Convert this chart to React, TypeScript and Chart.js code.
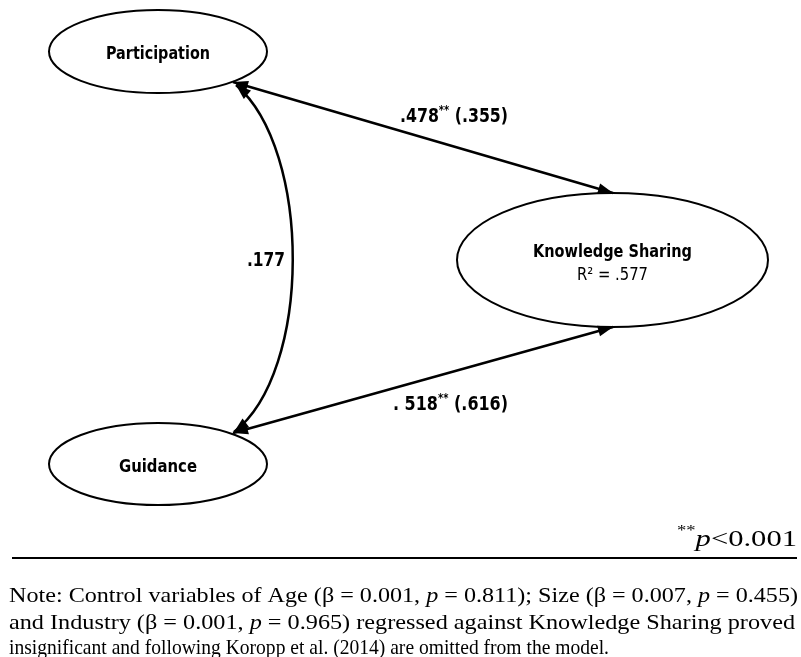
import React, { useEffect, useRef } from "react";
import { Chart, registerables } from "chart.js";

Chart.register(...registerables);

// ---- content ----
const nodeNames = ["Participation", "Knowledge Sharing", "Guidance"];
const nodeSubLabels = ["", "R² = .577", ""];
const pathSources = ["Participation", "Guidance"];
const pathTarget = "Knowledge Sharing";
const pathBeta = [".478", ". 518"];
const pathSig = ["**", "**"];
const pathSecond = [" (.355)", " (.616)"];
const covarianceValue = ".177";
const sigStars = "**";
const sigText = ["p", "<0.001"];
const noteLine1 = ["Note: Control variables of Age (β = 0.001, ", "p", " = 0.811); Size (β = 0.007, ", "p", " = 0.455)"];
const noteLine2 = ["and Industry (β = 0.001, ", "p", " = 0.965) regressed against Knowledge Sharing proved"];
const noteLine3 = ["insignificant and following Koropp et al. (2014) are omitted from the model."];

// ---- layout (data-space units of the hidden scales) ----
const W = 801;
const H = 657;
const NODE_GEOM: Record<string, { cx: number; cy: number; rx: number; ry: number; ty: number; tw: number; sy?: number; sw?: number }> = {
  "Participation": { cx: 158, cy: 51.5, rx: 109, ry: 41.5, ty: 59, tw: 104 },
  "Knowledge Sharing": { cx: 612.5, cy: 260, rx: 155.5, ry: 67, ty: 257, tw: 159, sy: 280, sw: 71 },
  "Guidance": { cx: 158, cy: 464, rx: 109, ry: 41, ty: 472, tw: 78 },
};
const PATH_GEOM = [
  { a: [233, 82], b: [613, 193], lx: 400, ly: 122, lw: 108 },
  { a: [233, 433], b: [613, 327], lx: 393, ly: 410, lw: 115 },
];
const CURVE = { p0: [236, 85], c1: [312, 150], c2: [312, 372], p3: [234, 432] };
const COV_LABEL = { x: 247, y: 266, w: 38 };
const SIG_GEOM = { right: 797, y: 546, w: 120 };
const RULE = { x0: 12, x1: 797, y: 558 };
const NOTE_GEOM = [
  { x: 9, y: 602, w: 789 },
  { x: 9, y: 629, w: 786 },
  { x: 9, y: 654, w: 600 },
];

const SANS_B = (px: number) => `bold ${px}px "DejaVu Sans Condensed", "DejaVu Sans", sans-serif`;
const SANS = (px: number) => `${px}px "DejaVu Sans Condensed", "DejaVu Sans", sans-serif`;
const SERIF = (px: number) => `${px}px "Liberation Serif", "Times New Roman", serif`;
const SERIF_I = (px: number) => `italic ${px}px "Liberation Serif", "Times New Roman", serif`;

type Seg = { t: string; font: string; dy?: number };

function measureRich(ctx: CanvasRenderingContext2D, segs: Seg[]) {
  let w = 0;
  const ws = segs.map((s) => {
    ctx.font = s.font;
    const m = ctx.measureText(s.t).width;
    w += m;
    return m;
  });
  return { w, ws };
}

function drawRich(
  ctx: CanvasRenderingContext2D,
  segs: Seg[],
  x: number,
  baseline: number,
  align: "left" | "center" | "right",
  targetW?: number
) {
  const { w, ws } = measureRich(ctx, segs);
  const sc = targetW ? targetW / w : 1;
  const total = w * sc;
  const left = align === "left" ? x : align === "center" ? x - total / 2 : x - total;
  ctx.save();
  ctx.translate(left, baseline);
  ctx.scale(sc, 1);
  ctx.textBaseline = "alphabetic";
  ctx.textAlign = "left";
  let cur = 0;
  segs.forEach((s, i) => {
    ctx.font = s.font;
    ctx.fillText(s.t, cur, s.dy || 0);
    cur += ws[i];
  });
  ctx.restore();
}

function arrowHead(ctx: CanvasRenderingContext2D, tipX: number, tipY: number, fromX: number, fromY: number) {
  const ang = Math.atan2(tipY - fromY, tipX - fromX);
  const len = 15;
  const half = 5.5;
  const bx = tipX - len * Math.cos(ang);
  const by = tipY - len * Math.sin(ang);
  ctx.beginPath();
  ctx.moveTo(tipX, tipY);
  ctx.lineTo(bx + half * Math.sin(ang), by - half * Math.cos(ang));
  ctx.lineTo(bx - half * Math.sin(ang), by + half * Math.cos(ang));
  ctx.closePath();
  ctx.fill();
}

const diagramPlugin = {
  id: "pathDiagram",
  beforeDraw(chart: any) {
    const ctx = chart.ctx as CanvasRenderingContext2D;
    ctx.save();
    ctx.fillStyle = "#ffffff";
    ctx.fillRect(0, 0, chart.width, chart.height);
    ctx.restore();
  },
  afterDraw(chart: any) {
    const ctx = chart.ctx as CanvasRenderingContext2D;
    const xs = chart.scales.x;
    const ys = chart.scales.y;
    const X = (v: number) => xs.getPixelForValue(v);
    const Y = (v: number) => ys.getPixelForValue(v);
    ctx.save();
    ctx.strokeStyle = "#000";
    ctx.fillStyle = "#000";

    // nodes
    nodeNames.forEach((name, i) => {
      const g = NODE_GEOM[name];
      ctx.lineWidth = 2;
      ctx.beginPath();
      ctx.ellipse(X(g.cx), Y(g.cy), Math.abs(X(g.cx + g.rx) - X(g.cx)), Math.abs(Y(g.cy + g.ry) - Y(g.cy)), 0, 0, Math.PI * 2);
      ctx.stroke();
      drawRich(ctx, [{ t: name, font: SANS_B(18) }], X(g.cx), Y(g.ty), "center", g.tw);
      if (nodeSubLabels[i] && g.sy !== undefined) {
        drawRich(ctx, [{ t: nodeSubLabels[i], font: SANS(17) }], X(g.cx), Y(g.sy), "center", g.sw);
      }
    });

    // paths
    ctx.lineWidth = 2.5;
    pathSources.forEach((src, i) => {
      const p = PATH_GEOM[i];
      const ax = X(p.a[0]), ay = Y(p.a[1]), bx = X(p.b[0]), by = Y(p.b[1]);
      ctx.beginPath();
      ctx.moveTo(ax, ay);
      ctx.lineTo(bx, by);
      ctx.stroke();
      arrowHead(ctx, ax, ay, bx, by);
      arrowHead(ctx, bx, by, ax, ay);
      drawRich(
        ctx,
        [
          { t: pathBeta[i], font: SANS_B(19) },
          { t: pathSig[i], font: SANS_B(12), dy: -8 },
          { t: pathSecond[i], font: SANS_B(19) },
        ],
        X(p.lx),
        Y(p.ly),
        "left",
        p.lw
      );
      void src;
    });
    void pathTarget;

    // covariance curve
    const c = CURVE;
    ctx.beginPath();
    ctx.moveTo(X(c.p0[0]), Y(c.p0[1]));
    ctx.bezierCurveTo(X(c.c1[0]), Y(c.c1[1]), X(c.c2[0]), Y(c.c2[1]), X(c.p3[0]), Y(c.p3[1]));
    ctx.stroke();
    arrowHead(ctx, X(c.p0[0]), Y(c.p0[1]), X(c.c1[0]), Y(c.c1[1]));
    arrowHead(ctx, X(c.p3[0]), Y(c.p3[1]), X(c.c2[0]), Y(c.c2[1]));
    drawRich(ctx, [{ t: covarianceValue, font: SANS_B(19) }], X(COV_LABEL.x), Y(COV_LABEL.y), "left", COV_LABEL.w);

    // significance note
    drawRich(
      ctx,
      [
        { t: sigStars, font: SERIF(14), dy: -11 },
        { t: sigText[0], font: SERIF_I(23) },
        { t: sigText[1], font: SERIF(23) },
      ],
      X(SIG_GEOM.right),
      Y(SIG_GEOM.y),
      "right",
      SIG_GEOM.w
    );

    // rule
    ctx.lineWidth = 2;
    ctx.beginPath();
    ctx.moveTo(X(RULE.x0), Y(RULE.y));
    ctx.lineTo(X(RULE.x1), Y(RULE.y));
    ctx.stroke();

    // note lines (odd indices italic "p"), each fitted to its measured extent
    [noteLine1, noteLine2, noteLine3].forEach((line, li) => {
      const g = NOTE_GEOM[li];
      const segs = line.map((t, k) => ({ t, font: k % 2 === 1 ? SERIF_I(22) : SERIF(22) }));
      drawRich(ctx, segs, X(g.x), Y(g.y), "left", X(g.x + g.w) - X(g.x));
    });

    ctx.restore();
  },
};

export default function App() {
  const ref = useRef<HTMLCanvasElement | null>(null);
  useEffect(() => {
    document.body.style.margin = "0";
    const canvas = ref.current;
    if (!canvas) return;
    const chart = new Chart(canvas, {
      type: "scatter",
      data: { datasets: [] },
      options: {
        animation: false,
        responsive: false,
        devicePixelRatio: 1,
        layout: { padding: 0 },
        plugins: { legend: { display: false }, tooltip: { enabled: false } },
        scales: {
          x: { type: "linear", min: 0, max: W, display: false },
          y: { type: "linear", min: 0, max: H, reverse: true, display: false },
        },
      },
      plugins: [diagramPlugin],
    });
    return () => chart.destroy();
  }, []);
  return (
    <div style={{ width: W, height: H, background: "#fff" }}>
      <canvas ref={ref} width={W} height={H} style={{ display: "block" }} />
    </div>
  );
}
